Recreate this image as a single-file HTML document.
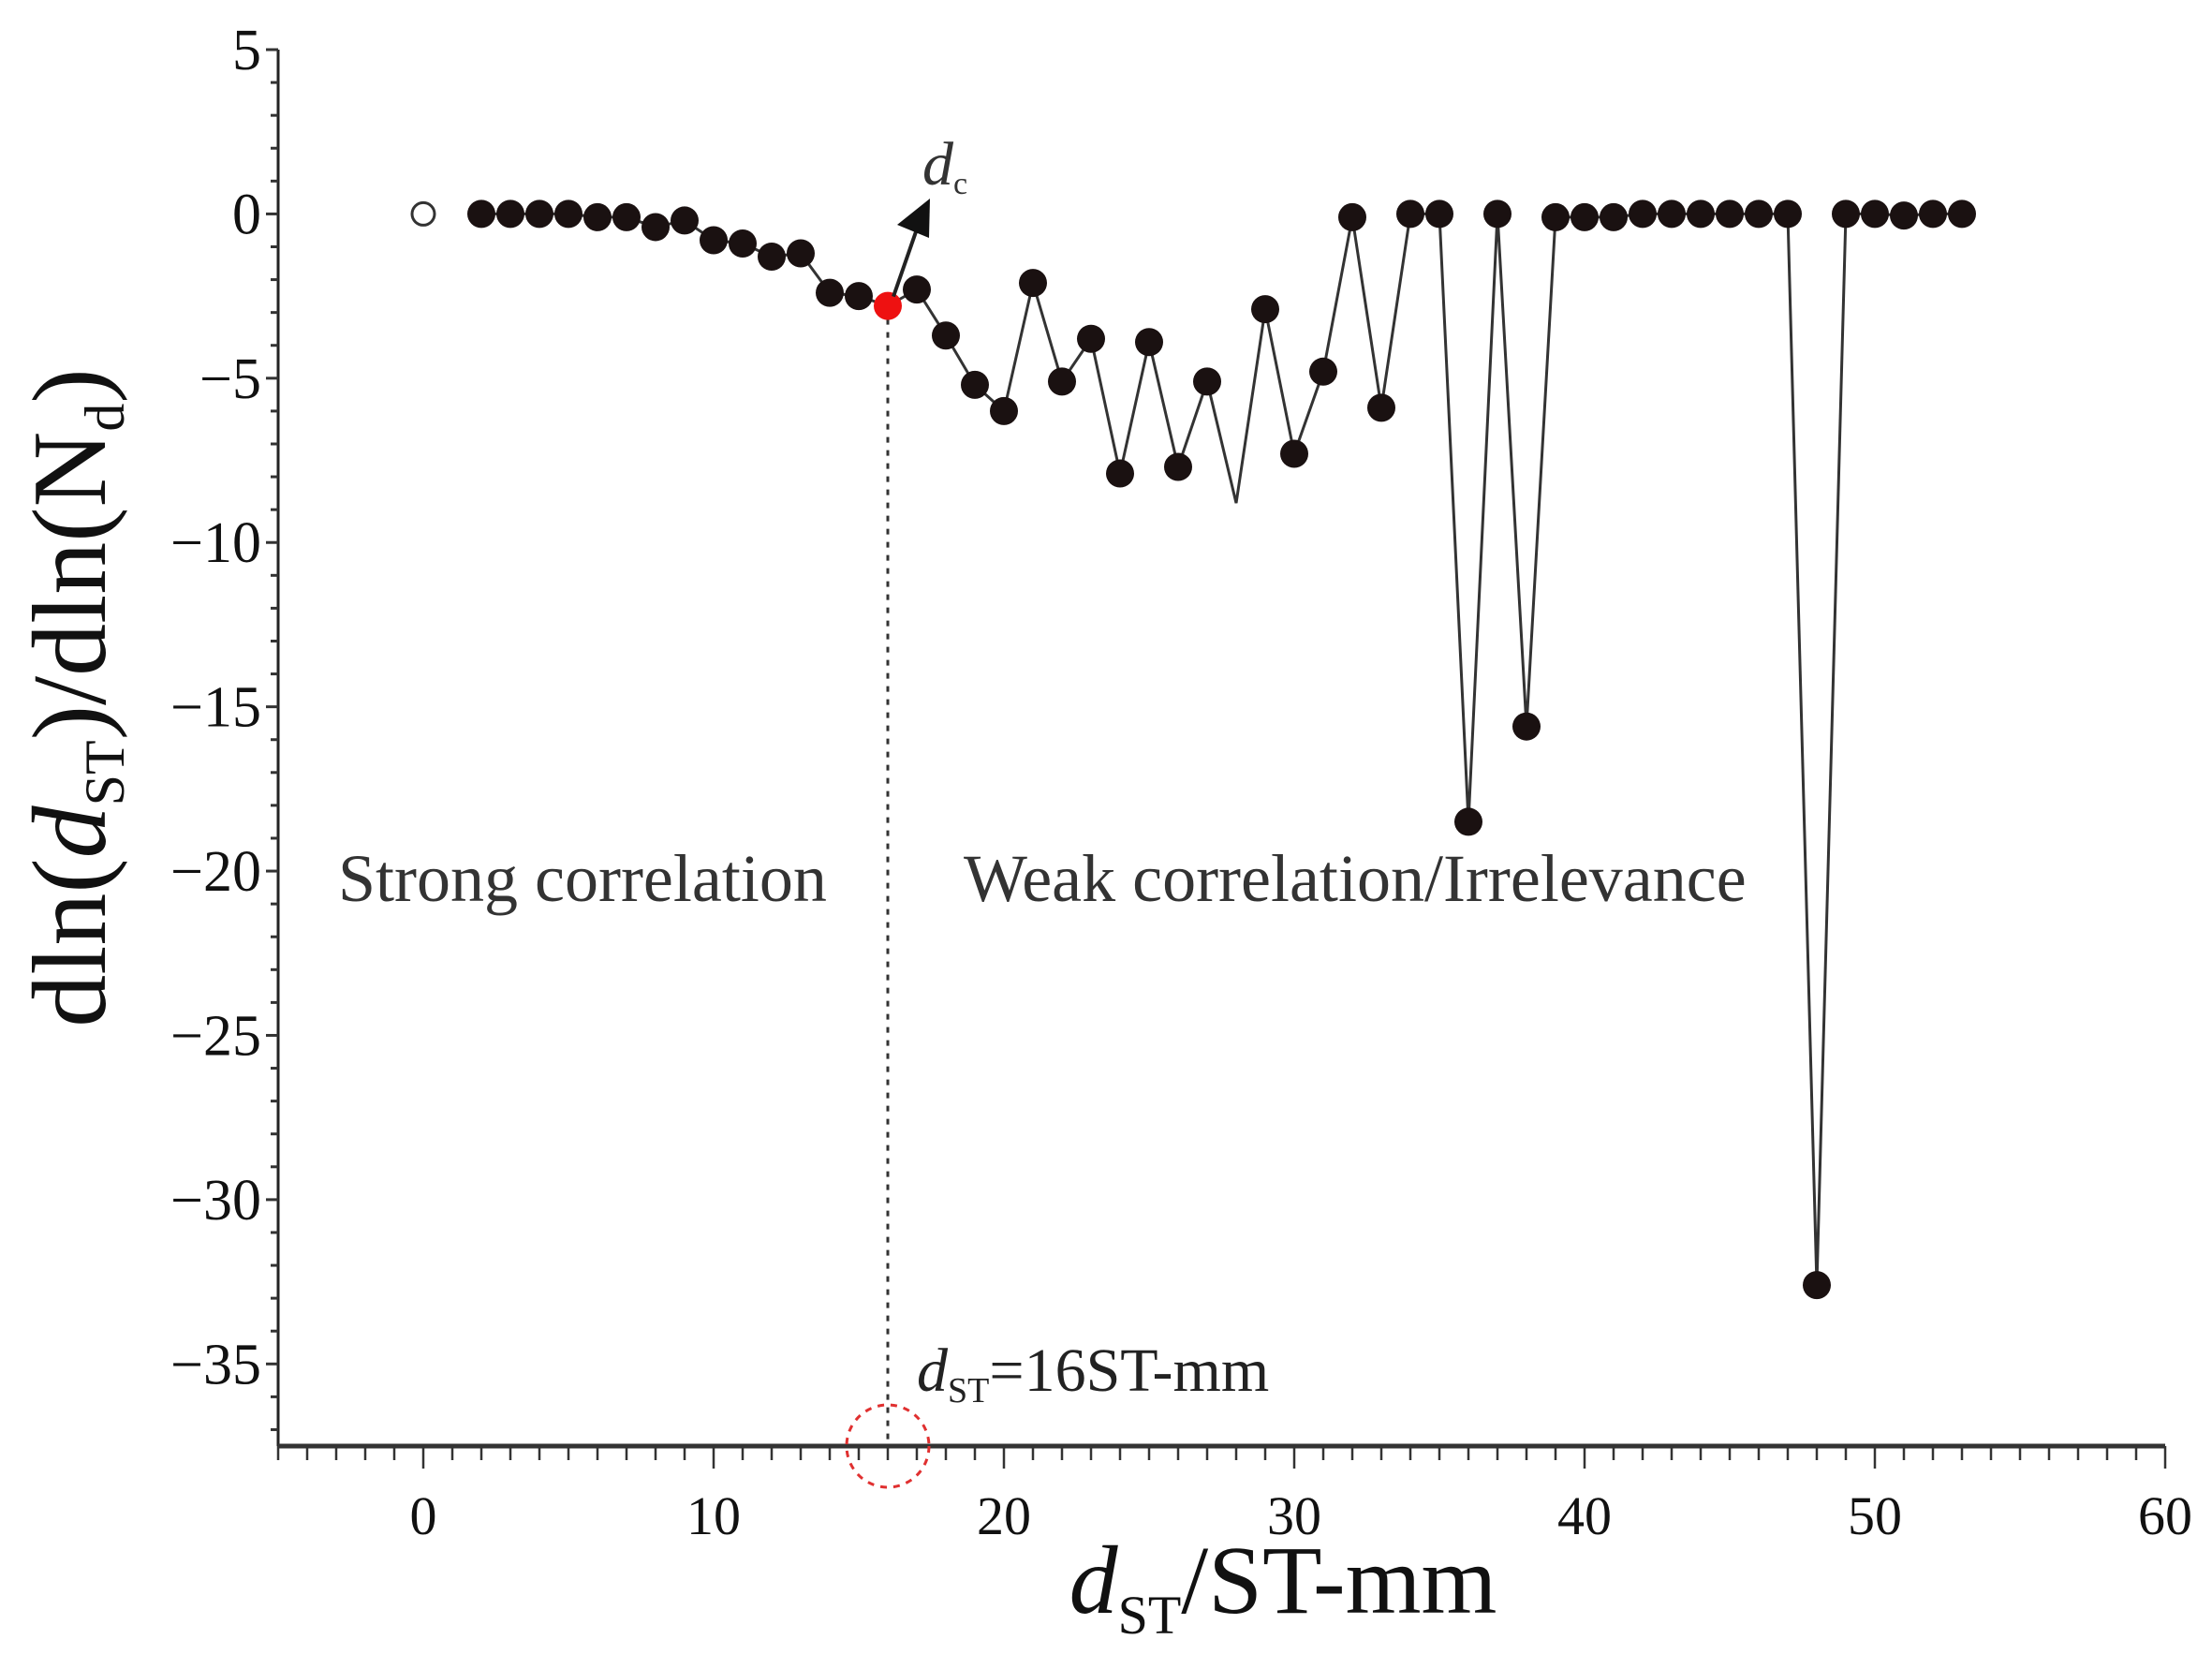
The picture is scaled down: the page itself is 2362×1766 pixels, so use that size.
<!DOCTYPE html>
<html><head><meta charset="utf-8"><style>
html,body{margin:0;padding:0;background:#fff;}
svg{display:block;font-family:"Liberation Serif",serif;}
</style></head><body>
<svg id="chart" width="2362" height="1766" viewBox="0 0 2362 1766" xmlns="http://www.w3.org/2000/svg">
<g id="axes"></g>
<g id="marks"></g>
<text x="361" y="962" font-size="72" fill="#333">Strong correlation</text>
<text x="1029" y="962" font-size="72" fill="#333">Weak correlation/Irrelevance</text>
<text x="979" y="1485" font-size="66" fill="#222"><tspan font-style="italic">d</tspan><tspan font-size="38" dy="12">ST</tspan><tspan dy="-12">=16ST-mm</tspan></text>
<text x="985" y="197" font-size="66" fill="#333"><tspan font-style="italic">d</tspan><tspan font-size="34" dy="10">c</tspan></text>
<text x="1370" y="1722" font-size="104" text-anchor="middle" fill="#111"><tspan font-style="italic">d</tspan><tspan font-size="58" dy="22">ST</tspan><tspan dy="-22">/ST-mm</tspan></text>
<text transform="translate(112,745) rotate(-90)" font-size="112" text-anchor="middle" fill="#111">dln(<tspan font-style="italic">d</tspan><tspan font-size="60" dy="20">ST</tspan><tspan dy="-20">)/dln(N</tspan><tspan font-size="60" dy="20">d</tspan><tspan dy="-20">)</tspan></text>
</svg>
<script>
const xs = [2,3,4,5,6,7,8,9,10,11,12,13,14,15,16,17,18,19,20,21,22,23,24,25,26,27,28,29,30,31,32,33,34,35,36,37,38,39,40,41,42,43,44,45,46,47,48,49,50,51,52,53];
const ys = [0,0,0,0,-0.1,-0.1,-0.4,-0.2,-0.8,-0.9,-1.3,-1.2,-2.4,-2.5,-2.8,-2.3,-3.7,-5.2,-6.0,-2.1,-5.1,-3.8,-7.9,-3.9,-7.7,-5.1,-8.8,-2.9,-7.3,-4.8,-0.1,-5.9,0,0,-18.5,0,-15.6,-0.1,-0.1,-0.1,0,0,0,0,0,0,-32.6,0,0,-0.05,0,0];
const noMarker = [28];
const openPoint = [0, 0];
const criticalX = 16;
const xTicks = [0,10,20,30,40,50,60];
const yTicks = [5,0,-5,-10,-15,-20,-25,-30,-35];
const xMin=-5,xMax=60,yMin=-37.5,yMax=5;
const L=297,R=2312,T=53,B=1544;
const X=v=>L+(v-xMin)/(xMax-xMin)*(R-L);
const Y=v=>T+(yMax-v)/(yMax-yMin)*(B-T);
const NS="http://www.w3.org/2000/svg";
function mk(p,tag,at){const e=document.createElementNS(NS,tag);for(const k in at)e.setAttribute(k,at[k]);p.appendChild(e);return e;}
const ax=document.getElementById('axes'), mg=document.getElementById('marks');
let e;
e=mk(ax,'line',{x1:L,y1:T,x2:L,y2:B,stroke:'#222','stroke-width':3});


e=mk(ax,'line',{x1:L,y1:B,x2:R,y2:B,stroke:'#333','stroke-width':5});


for(let v=5;v>=-37;v--){const major=v%5===0;
 e=mk(ax,'line',{x1:L-(major?13:8),y1:Y(v),x2:L,y2:Y(v),stroke:'#333','stroke-width':3});
 
 }
for(let v=-5;v<=60;v++){const major=v%10===0;
 e=mk(ax,'line',{x1:X(v),y1:B,x2:X(v),y2:B+(major?24:15),stroke:'#333','stroke-width':2.5});
 
 }
yTicks.forEach(v=>{e=mk(ax,'text',{x:L-18,y:Y(v)+21,'font-size':62,'text-anchor':'end',fill:'#111'});e.textContent=(v<0?'\u2212':'')+Math.abs(v);
 
 });
xTicks.forEach(v=>{e=mk(ax,'text',{x:X(v),y:B+94,'font-size':58,'text-anchor':'middle',fill:'#111'});e.textContent=v;
 
 });
const ci=xs.indexOf(criticalX);
e=mk(mg,'line',{x1:X(criticalX),y1:Y(ys[ci]),x2:X(criticalX),y2:B,stroke:'#333','stroke-width':3,'stroke-dasharray':'6,8'});


e=mk(mg,'circle',{cx:X(criticalX),cy:B,r:44,fill:'none',stroke:'#e03030','stroke-width':3,'stroke-dasharray':'7,7'});


e=mk(mg,'polyline',{points:xs.map((x,i)=>X(x)+','+Y(ys[i])).join(' '),fill:'none',stroke:'#333','stroke-width':3});


xs.forEach((x,i)=>{if(noMarker.includes(x))return;
 e=mk(mg,'circle',{cx:X(x),cy:Y(ys[i]),r:15,fill:x===criticalX?'#ee1111':'#1a1111'});
 
 });
e=mk(mg,'circle',{cx:X(openPoint[0]),cy:Y(openPoint[1]),r:12,fill:'#fff',stroke:'#333','stroke-width':3});


e=mk(mg,'line',{x1:X(criticalX)+6,y1:Y(ys[ci])-10,x2:982,y2:236,stroke:'#222','stroke-width':4});


e=mk(mg,'polygon',{points:'993,212 958,240 992,254',fill:'#111'});


</script>
</body></html>
